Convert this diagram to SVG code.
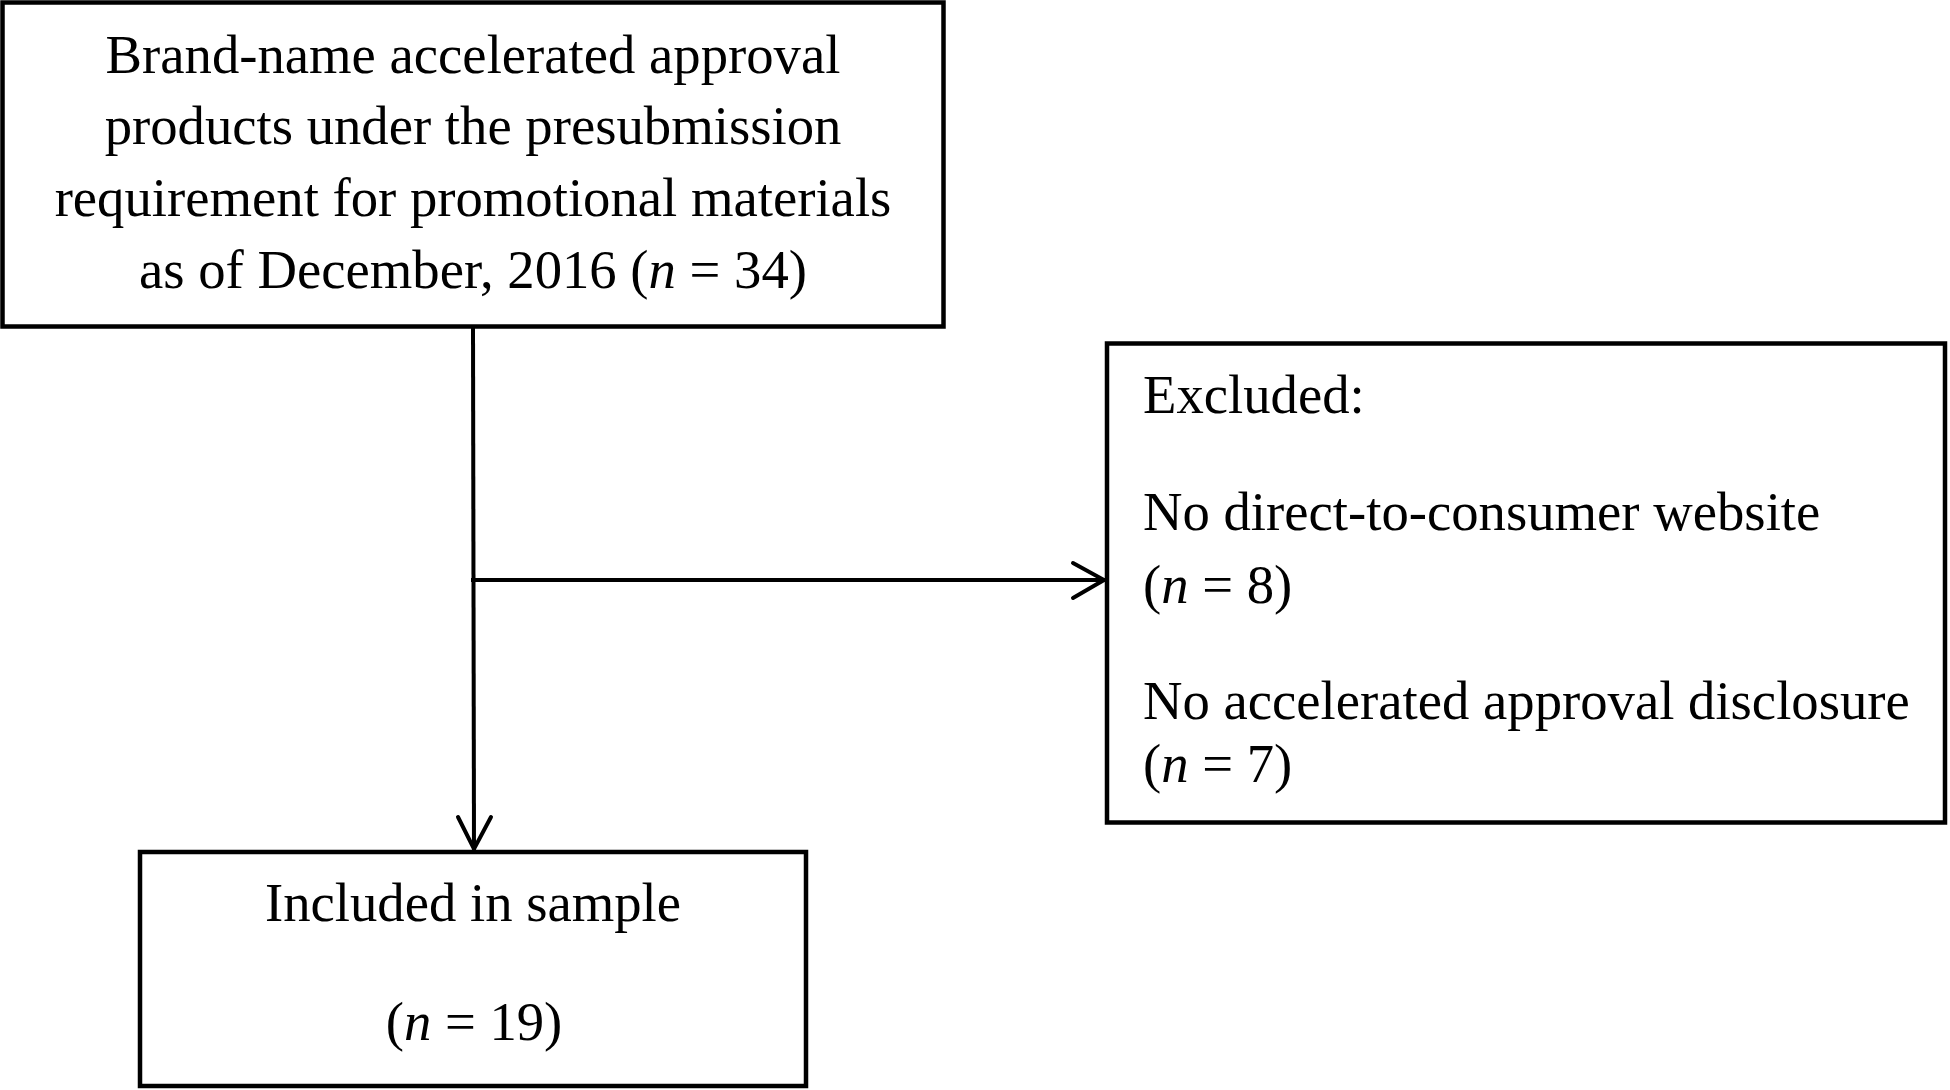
<svg xmlns="http://www.w3.org/2000/svg" width="1950" height="1090" viewBox="0 0 1950 1090">
<style>
.box{fill:#fff;stroke:#000;stroke-width:4.5}
.t{font-family:"Liberation Serif","Times New Roman",serif;font-size:54.7px;fill:#000}
.c{text-anchor:middle}
.i{font-style:italic}
.ln{fill:none;stroke:#000;stroke-width:4;stroke-linecap:square}
.ah{fill:none;stroke:#000;stroke-width:4;stroke-linecap:round;stroke-linejoin:miter}
</style>
<rect width="1950" height="1090" fill="#fff"/>
<g id="connectors">
<line class="ln" x1="473" y1="327" x2="474" y2="848"/>
<line class="ln" x1="473" y1="580" x2="1103" y2="580"/>
<polyline class="ah" points="1073,563 1104,580 1073,598"/>
<polyline class="ah" points="458,817 474,849 491,817"/>
</g>
<g id="node-source">
<rect class="box" x="2.5" y="2.5" width="941" height="324"/>
<text class="t c" x="473" y="73">Brand-name accelerated approval</text>
<text class="t c" x="473" y="144">products under the presubmission</text>
<text class="t c" x="473" y="216">requirement for promotional materials</text>
<text class="t c" x="473" y="288">as of December, 2016 (<tspan class="i">n</tspan> = 34)</text>
</g>
<g id="node-excluded">
<rect class="box" x="1107" y="343.5" width="838" height="479"/>
<text class="t" x="1143" y="413">Excluded:</text>
<text class="t" x="1143" y="530">No direct-to-consumer website</text>
<text class="t" x="1143" y="603">(<tspan class="i">n</tspan> = 8)</text>
<text class="t" x="1143" y="719">No accelerated approval disclosure</text>
<text class="t" x="1143" y="782">(<tspan class="i">n</tspan> = 7)</text>
</g>
<g id="node-included">
<rect class="box" x="140" y="852" width="666" height="234"/>
<text class="t c" x="473" y="921">Included in sample</text>
<text class="t c" x="474" y="1040">(<tspan class="i">n</tspan> = 19)</text>
</g>
</svg>
